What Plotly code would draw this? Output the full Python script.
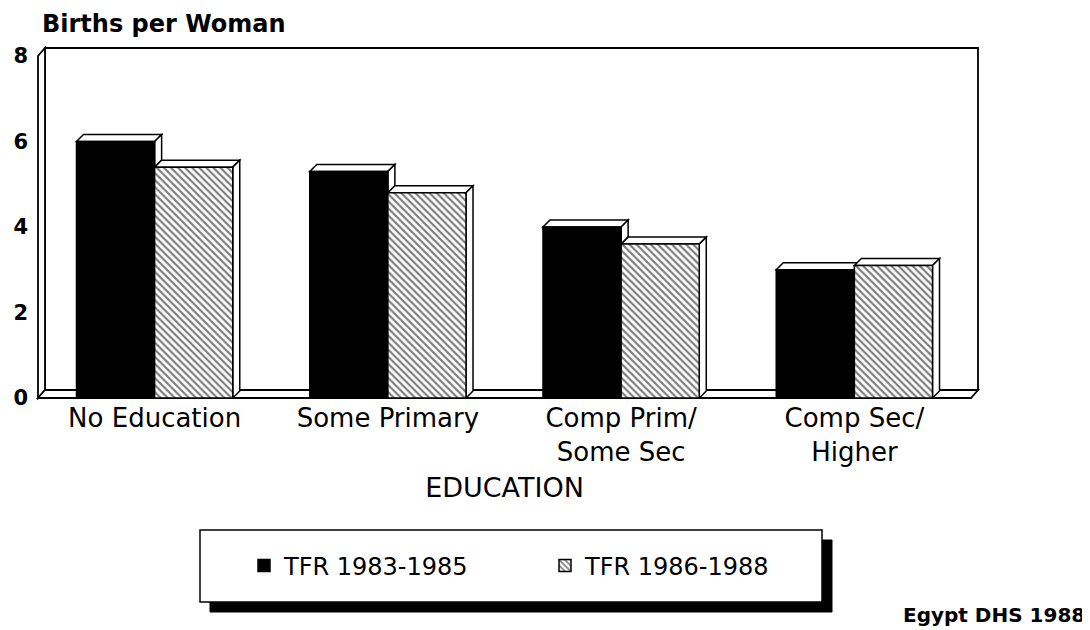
import plotly.graph_objects as go

# ---- data ----
categories = ["No Education", "Some Primary", "Comp Prim/<br>Some Sec", "Comp Sec/<br>Higher"]
tfr_1983_1985 = [6.0, 5.3, 4.0, 3.0]
tfr_1986_1988 = [5.4, 4.8, 3.6, 3.1]
series_names = ["TFR 1983-1985", "TFR 1986-1988"]
y_ticks = [0, 2, 4, 6, 8]

# ---- geometry ----
W, H = 1090, 630
OFF = 8  # default page body margin
L, T = 30, 48
plot_w, plot_h = 933, 342
R = W - L - plot_w
B = H - T - plot_h
y_max = 8
bargap = 0.33
half = (1 - bargap) / 2
depth_px = 7
dx = depth_px / (plot_w / len(categories))
dy = depth_px / (plot_h / y_max)
wdx = 7 / plot_w
wdy = 8 / plot_h

FONT = "DejaVu Sans"

fig = go.Figure()
fig.add_trace(go.Bar(
    x=categories, y=tfr_1983_1985, name=series_names[0],
    marker=dict(color="black", line=dict(color="black", width=1.5)),
))
fig.add_trace(go.Bar(
    x=categories, y=tfr_1986_1988, name=series_names[1],
    marker=dict(color="white", line=dict(color="black", width=1.5),
                pattern=dict(shape="\\", fgcolor="black", bgcolor="white",
                             size=5, solidity=0.45)),
))

shapes = []
line = dict(color="black", width=1.8)
# 3D box: back wall, left wall, floor
shapes.append(dict(type="rect", xref="paper", yref="paper", layer="below",
                   x0=wdx, x1=1 + wdx, y0=wdy, y1=1 + wdy,
                   fillcolor="white", line=line))
shapes.append(dict(type="path", xref="paper", yref="paper", layer="below",
                   path=f"M0,0 L0,1 L{wdx},{1 + wdy} L{wdx},{wdy} Z",
                   fillcolor="white", line=line))
shapes.append(dict(type="path", xref="paper", yref="paper", layer="below",
                   path=f"M0,0 L1,0 L{1 + wdx},{wdy} L{wdx},{wdy} Z",
                   fillcolor="white", line=line))


def face(pts):
    p = "M" + " L".join(f"{x},{y}" for x, y in pts) + " Z"
    return dict(type="path", xref="x", yref="y", layer="below", path=p,
                fillcolor="white", line=dict(color="black", width=1.5))


for i, (a, b) in enumerate(zip(tfr_1983_1985, tfr_1986_1988)):
    xa0, xa1 = i - half, i
    xb0, xb1 = i, i + half
    shapes.append(face([(xa0, a), (xa1, a), (xa1 + dx, a + dy), (xa0 + dx, a + dy)]))
    if a > b:
        shapes.append(face([(xa1, b), (xa1, a), (xa1 + dx, a + dy), (xa1 + dx, b + dy)]))
    shapes.append(face([(xb0, b), (xb1, b), (xb1 + dx, b + dy), (xb0 + dx, b + dy)]))
    shapes.append(face([(xb1, 0), (xb1, b), (xb1 + dx, b + dy), (xb1 + dx, dy)]))


def px_x(px):
    return (px - OFF - L) / plot_w


def px_y(py):
    return (H - B - (py - OFF)) / plot_h


# legend box with drop shadow
shapes.append(dict(type="rect", xref="paper", yref="paper", layer="above",
                   x0=px_x(210), x1=px_x(832), y0=px_y(612), y1=px_y(540),
                   fillcolor="black", line=dict(color="black", width=1)))
shapes.append(dict(type="rect", xref="paper", yref="paper", layer="above",
                   x0=px_x(200), x1=px_x(822), y0=px_y(602), y1=px_y(530),
                   fillcolor="white", line=dict(color="black", width=1.5)))

fig.update_layout(
    width=W, height=H,
    margin=dict(l=L, r=R, t=T, b=B, pad=0, autoexpand=False),
    paper_bgcolor="white", plot_bgcolor="rgba(0,0,0,0)",
    barmode="group", bargap=bargap, bargroupgap=0,
    font=dict(family=FONT, color="black"),
    shapes=shapes,
    showlegend=True,
    legend=dict(orientation="h", xref="container", yref="container",
                x=(244 - OFF) / W, xanchor="left",
                y=1 - (566 - OFF) / H, yanchor="middle",
                bgcolor="rgba(0,0,0,0)", borderwidth=0,
                font=dict(family=FONT, size=24, color="black"),
                entrywidth=256, entrywidthmode="pixels"),
    xaxis=dict(range=[-0.5, len(categories) - 0.5], showline=False, showgrid=False,
               zeroline=False, ticks="", automargin=False,
               tickfont=dict(family=FONT, size=26),
               ticklabelstandoff=2,
               title=dict(text="EDUCATION", font=dict(family=FONT, size=27), standoff=12)),
    yaxis=dict(range=[0, y_max], tickvals=y_ticks, showline=False, showgrid=False,
               zeroline=False, ticks="", ticklabelstandoff=9, automargin=False,
               tickfont=dict(family=FONT, size=21, weight="bold")),
    annotations=[
        dict(text="Births per Woman", xref="paper", yref="paper",
             x=px_x(40), y=px_y(24), xanchor="left", yanchor="middle",
             showarrow=False, font=dict(family=FONT, size=24, weight="bold")),
        dict(text="Egypt DHS 1988", xref="paper", yref="paper",
             x=px_x(1087), y=px_y(615), xanchor="right", yanchor="middle",
             showarrow=False, font=dict(family=FONT, size=20, weight="bold")),
    ],
)

fig.write_html("out.html")
